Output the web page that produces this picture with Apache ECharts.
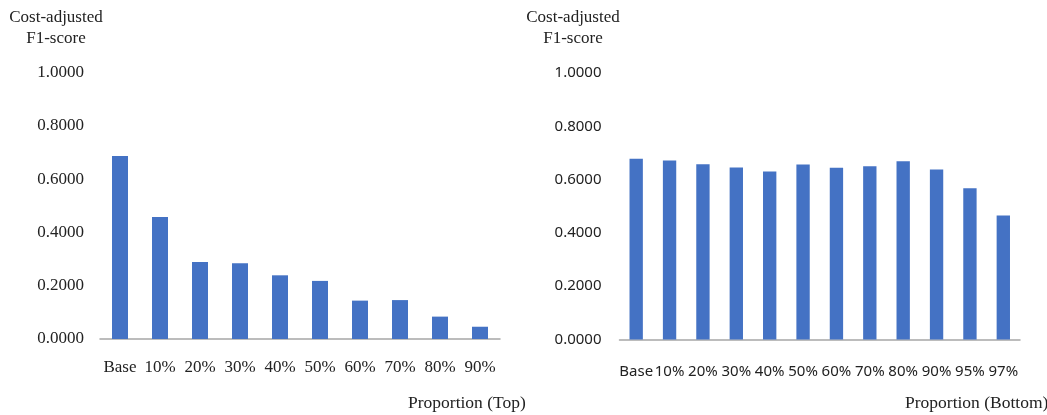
<!DOCTYPE html>
<html>
<head>
<meta charset="utf-8">
<script src="https://cdn.jsdelivr.net/npm/echarts@6/dist/echarts.min.js"></script>
<style>
  html, body { margin: 0; padding: 0; background: #ffffff; }
  #chart { width: 1047px; height: 415px; }
</style>
</head>
<body>
<div id="chart"></div>
<script>
// Cost-adjusted F1-score when removing the top / bottom proportion of samples
const topCategories = ['Base', '10%', '20%', '30%', '40%', '50%', '60%', '70%', '80%', '90%'];
const topScores = [0.687, 0.458, 0.289, 0.284, 0.239, 0.218, 0.144, 0.146, 0.084, 0.046];

const bottomCategories = ['Base', '10%', '20%', '30%', '40%', '50%', '60%', '70%', '80%', '90%', '95%', '97%'];
const bottomScores = [0.678, 0.672, 0.658, 0.645, 0.630, 0.657, 0.644, 0.650, 0.669, 0.638, 0.568, 0.465];

const yTicks = { min: 0, max: 1, interval: 0.2 };

const BAR_COLOR = '#4472C4';
const AXIS_COLOR = '#a6a6a6';
const SERIF = '"Liberation Serif", "DejaVu Serif", serif';
const SANS = '"Noto Sans", "Open Sans", sans-serif';

function valueAxis(gridIndex, font, size, margin) {
  return {
    type: 'value',
    gridIndex: gridIndex,
    min: yTicks.min,
    max: yTicks.max,
    interval: yTicks.interval,
    axisLine: { show: false },
    axisTick: { show: false },
    splitLine: { show: false },
    axisLabel: {
      margin: margin,
      color: '#222',
      fontFamily: font,
      fontSize: size,
      formatter: v => v.toFixed(4)
    }
  };
}

function categoryAxis(gridIndex, cats, font, size, margin) {
  return {
    type: 'category',
    gridIndex: gridIndex,
    data: cats,
    axisLine: { lineStyle: { color: AXIS_COLOR, width: 1.5 } },
    axisTick: { show: false },
    axisLabel: {
      interval: 0,
      margin: margin,
      color: '#222',
      fontFamily: font,
      fontSize: size
    }
  };
}

const chart = echarts.init(document.getElementById('chart'), null, { renderer: 'canvas' });

const titleStyle = {
  text: 'Cost-adjusted\nF1-score', align: 'center', lineHeight: 21,
  font: '17px ' + SERIF, fill: '#222'
};

chart.setOption({
  animation: false,
  backgroundColor: '#ffffff',
  grid: [
    { left: 100, top: 72.5, width: 400, height: 266.5 },
    { left: 619.5, top: 73, width: 400.5, height: 266.5 }
  ],
  xAxis: [
    categoryAxis(0, topCategories, SERIF, 17, 20),
    categoryAxis(1, bottomCategories, SANS, 15, 25)
  ],
  yAxis: [
    valueAxis(0, SERIF, 17, 16),
    valueAxis(1, SANS, 15, 18)
  ],
  series: [
    {
      type: 'bar',
      xAxisIndex: 0,
      yAxisIndex: 0,
      data: topScores,
      barWidth: '40%',
      itemStyle: { color: BAR_COLOR }
    },
    {
      type: 'bar',
      xAxisIndex: 1,
      yAxisIndex: 1,
      data: bottomScores,
      barWidth: '40%',
      itemStyle: { color: BAR_COLOR }
    }
  ],
  graphic: [
    { type: 'text', x: 56, y: 7, style: Object.assign({}, titleStyle) },
    { type: 'text', x: 573, y: 7, style: Object.assign({}, titleStyle) },
    {
      type: 'text', x: 408, y: 394,
      style: { text: 'Proportion (Top)', font: '17.5px ' + SERIF, fill: '#222' }
    },
    {
      type: 'text', x: 905, y: 394,
      style: { text: 'Proportion (Bottom)', font: '17.5px ' + SERIF, fill: '#222' }
    }
  ]
});
</script>
</body>
</html>
